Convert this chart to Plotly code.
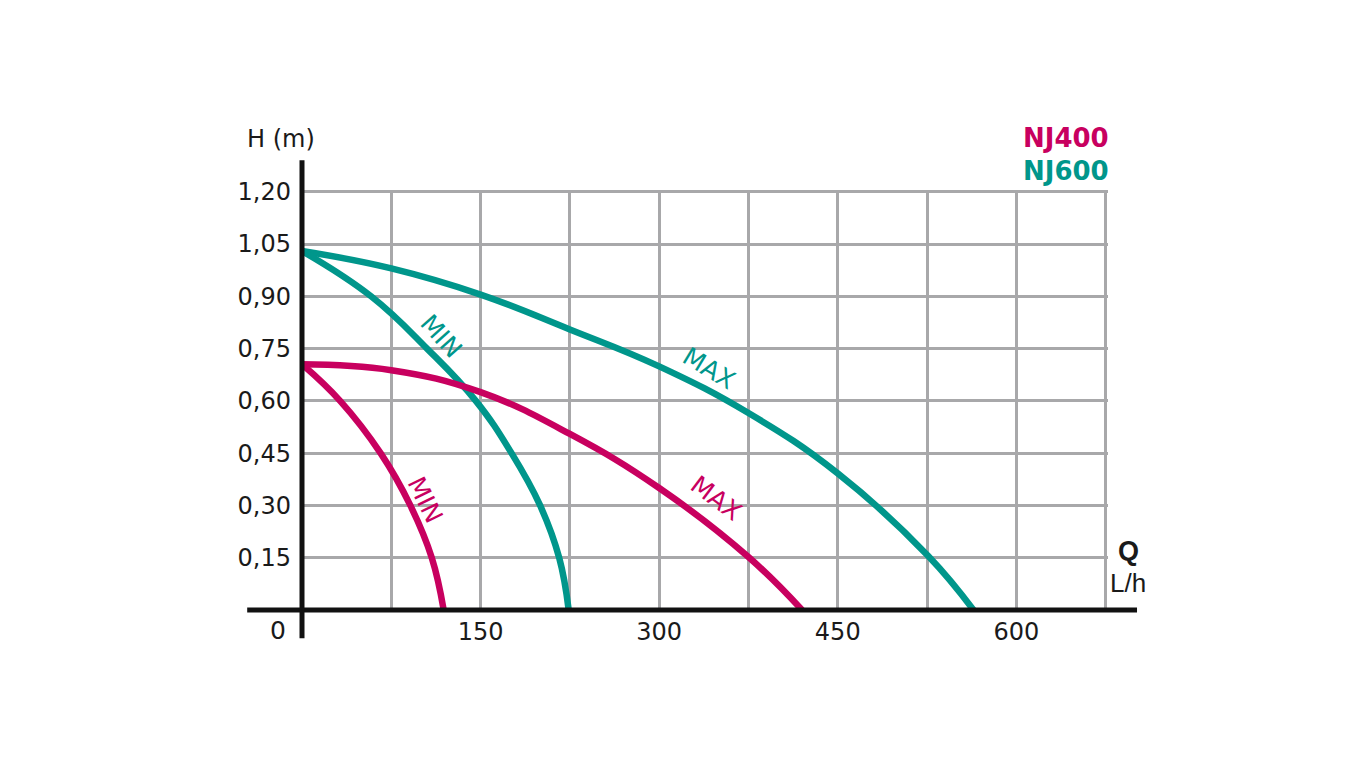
import plotly.graph_objects as go

# ---- data ----
nj600_max_q = [0, 75, 150, 225, 300, 375, 450, 526, 564]
nj600_max_h = [1.03, 0.98, 0.905, 0.805, 0.699, 0.565, 0.392, 0.155, 0.0]

nj600_min_q = [0, 58, 105, 146, 176, 200, 216, 224]
nj600_min_h = [1.03, 0.90, 0.75, 0.60, 0.45, 0.30, 0.15, 0.0]

nj400_max_q = [0, 75, 150, 225, 300, 375, 420]
nj400_max_h = [0.705, 0.688, 0.625, 0.505, 0.35, 0.152, 0.0]

nj400_min_q = [0, 32, 66, 91, 109, 119]
nj400_min_h = [0.705, 0.60, 0.45, 0.30, 0.15, 0.0]

x_grid = [75, 150, 225, 300, 375, 450, 525, 600, 675]
x_labels = ["", "150", "", "300", "", "450", "", "600", ""]
y_ticks = [0.15, 0.30, 0.45, 0.60, 0.75, 0.90, 1.05, 1.20]
y_labels = ["0,15", "0,30", "0,45", "0,60", "0,75", "0,90", "1,05", "1,20"]

TEAL = "#00968B"
MAGENTA = "#C8005F"
GRID = "#A8A8AA"
INK = "#1a1a1a"
FONT = "DejaVu Sans"

fig = go.Figure()
for q, h, c in [(nj600_max_q, nj600_max_h, TEAL), (nj600_min_q, nj600_min_h, TEAL),
                (nj400_max_q, nj400_max_h, MAGENTA), (nj400_min_q, nj400_min_h, MAGENTA)]:
    fig.add_trace(go.Scatter(x=q, y=h, mode="lines",
                             line=dict(color=c, width=6.5, shape="spline", smoothing=1.2),
                             hoverinfo="skip", showlegend=False))

# curve labels (data coordinates, inside the plot)
curve_labels = [
    ("MIN", 117, 0.784, 48, TEAL),
    ("MAX", 342, 0.693, 31, TEAL),
    ("MIN", 103, 0.316, 64, MAGENTA),
    ("MAX", 348, 0.319, 37, MAGENTA),
]
for t, x, y, a, c in curve_labels:
    fig.add_annotation(x=x, y=y, text=t, textangle=a, showarrow=False,
                       font=dict(family=FONT, size=25, color=c))

# labels outside the plot area (paper coordinates)
outer = [
    ("H (m)", -0.026, 1.121, "center", FONT, 24, INK),
    ("0", -0.030, -0.048, "center", FONT, 25, INK),
    ("<b>Q</b>", 1.025, 0.140, "center", "Liberation Sans Narrow, Liberation Sans", 27, INK),
    ("L/h", 1.025, 0.064, "center", "Liberation Sans Narrow, Liberation Sans", 26, INK),
    ("<b>NJ400</b>", 1.003, 1.124, "right", FONT, 26, MAGENTA),
    ("<b>NJ600</b>", 1.003, 1.045, "right", FONT, 26, TEAL),
]
for t, x, y, xa, fam, sz, c in outer:
    fig.add_annotation(x=x, y=y, xref="paper", yref="paper", xanchor=xa, yanchor="middle",
                       text=t, showarrow=False, borderpad=0,
                       font=dict(family=fam, size=sz, color=c))

# thick black axis lines (extend beyond plot area as in the reference)
fig.add_shape(type="line", xref="paper", yref="paper", x0=-0.068, x1=1.036, y0=0, y1=0,
              line=dict(color="#111111", width=5), layer="above")
fig.add_shape(type="line", xref="paper", yref="paper", x0=0, x1=0, y0=-0.067, y1=1.071,
              line=dict(color="#111111", width=5), layer="above")

fig.update_layout(
    width=1350, height=752,
    margin=dict(l=294, r=250, t=182, b=150),
    paper_bgcolor="white", plot_bgcolor="white",
    font=dict(family=FONT, size=24, color=INK),
    xaxis=dict(range=[0, 677], tickvals=x_grid, ticktext=x_labels, showgrid=True,
               gridcolor=GRID, gridwidth=2.5, zeroline=False, showline=False,
               ticks="", ticklabelstandoff=5, fixedrange=True),
    yaxis=dict(range=[0, 1.205], tickvals=y_ticks, ticktext=y_labels, showgrid=True,
               gridcolor=GRID, gridwidth=2.5, zeroline=False, showline=False,
               ticks="", ticklabelstandoff=10, fixedrange=True),
)

fig.write_html("out.html")
